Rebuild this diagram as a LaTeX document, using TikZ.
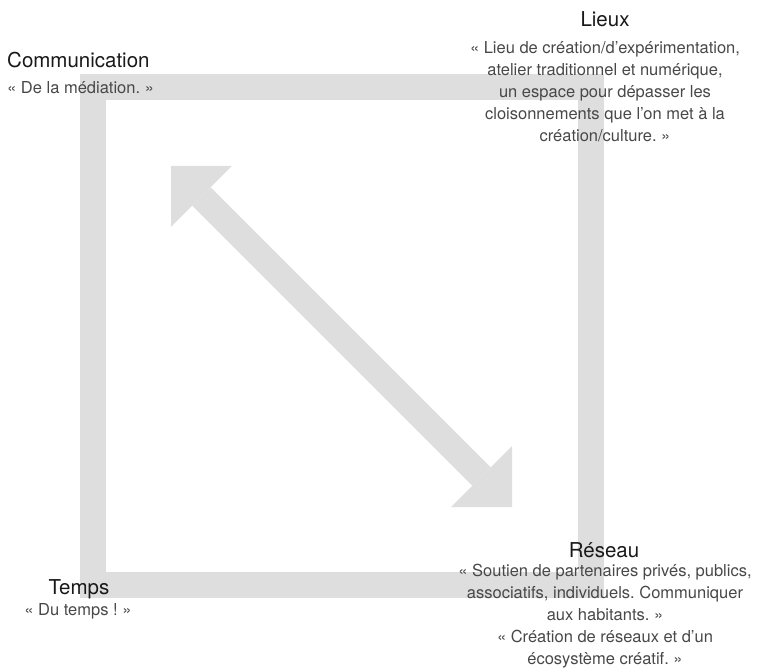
\documentclass[tikz,border=0pt]{standalone}
\usepackage{fontspec}
\setmainfont{TeX Gyre Heros}
\usepackage{tikz}
\usetikzlibrary{arrows.meta}
\definecolor{bandgray}{RGB}{222,222,222}
\definecolor{quotegray}{RGB}{72,72,72}
\frenchspacing

\begin{document}
\begin{tikzpicture}[
                x=1pt, y=-1pt, % pixel-like units, y pointing down
                title/.style={font=\fontsize{20.5}{24}\selectfont, text=black!90, inner sep=0pt}, % corner headings
                quote/.style={font=\fontsize{16.5}{22}\selectfont, text=quotegray, align=center, inner sep=0pt}, % quoted remarks
                band/.style={draw=bandgray, line width=26pt} % wide light grey strokes
                ]
                \useasboundingbox (0,0) rectangle (761,668);
                \draw[band] (93,87) rectangle (591,585); % square frame
                \coordinate (nw) at (171,166);
                \coordinate (se) at (512,507);
                \draw[band, {Triangle[length=43pt, width=86pt, line width=0pt]}-{Triangle[length=43pt, width=86pt, line width=0pt]}] (nw) -- (se);

                \node[title, anchor=base west] (comm) at (7,68) {Communication};
                \node[quote, anchor=base west] (commq) at (7,94) {« De la médiation. »};

                \node[title, anchor=base] (lieux) at (605,27) {Lieux};
                \node[quote, anchor=north] (lieuxq) at (605,41) {« Lieu de création/d’expérimentation,\\
                    atelier traditionnel et numérique,\\
                    un espace pour dépasser les\\
                    cloisonnements que l’on met à la\\
                    création/culture. »};

                \node[title, anchor=base] (reseau) at (604,557) {Réseau};
                \node[quote, anchor=north] (reseauq) at (605,564) {« Soutien de partenaires privés, publics,\\
                    associatifs, individuels. Communiquer\\
                    aux habitants. »\\
                    « Création de réseaux et d’un\\
                    écosystème créatif. »};

                \node[title, anchor=base] (temps) at (79,594) {Temps};
                \node[quote, anchor=base] (tempsq) at (78,615) {« Du temps ! »};
            \end{tikzpicture}
\end{document}
